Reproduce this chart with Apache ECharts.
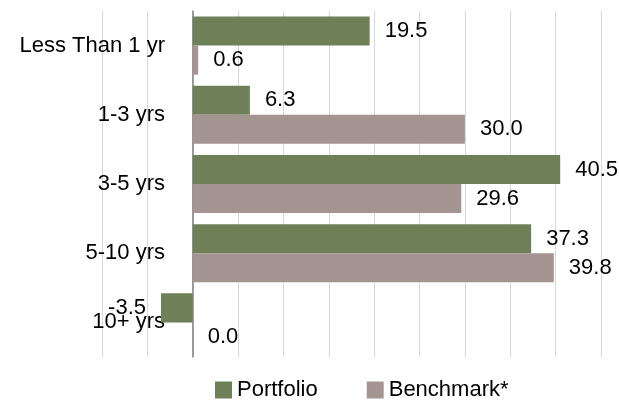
<!DOCTYPE html>
<html>
<head>
<meta charset="utf-8">
<script src="https://cdn.jsdelivr.net/npm/echarts@6/dist/echarts.min.js"></script>
<style>
  html, body { margin: 0; padding: 0; background: #fff; }
  #chart1 { width: 619px; height: 401px; }
</style>
</head>
<body>
<div id="chart1"></div>
<script>
var categories = ['Less Than 1 yr', '1-3 yrs', '3-5 yrs', '5-10 yrs', '10+ yrs'];
var portfolio = [19.5, 6.3, 40.5, 37.3, -3.5];
var benchmark = [0.6, 30.0, 29.6, 39.8, 0.0];
var seriesNames = ['Portfolio', 'Benchmark*'];

var font = "'Liberation Sans', Arial, sans-serif";

function toItems(values) {
    var items = [];
    for (var i = 0; i < values.length; i++) {
        items.push({
            value: values[i],
            label: { position: values[i] < 0 ? 'left' : 'right' }
        });
    }
    return items;
}

var labelStyle = {
    show: true,
    distance: 15,
    color: '#000',
    fontFamily: font,
    fontSize: 22,
    formatter: function (p) {
        return p.value.toFixed(1);
    }
};

var myChart1 = echarts.init(document.getElementById('chart1'));
var option = {
    animation: false,
    grid: {
        left: 102,
        right: 18,
        top: 11,
        bottom: 44,
        outerBoundsMode: 'none',
        containLabel: false
    },
    legend: {
        data: seriesNames,
        left: 215,
        top: 379,
        padding: 0,
        icon: 'rect',
        itemWidth: 17,
        itemHeight: 17,
        itemGap: 49,
        textStyle: {
            fontFamily: font,
            fontSize: 22,
            color: '#000'
        }
    },
    xAxis: {
        type: 'value',
        min: -10,
        max: 45,
        interval: 5,
        axisLabel: { show: false },
        axisLine: { show: false },
        axisTick: { show: false },
        splitLine: {
            show: true,
            lineStyle: { color: '#d9d9d9', width: 1 }
        }
    },
    yAxis: {
        type: 'category',
        data: categories,
        inverse: true,
        axisTick: { show: false },
        axisLine: {
            show: true,
            onZero: true,
            lineStyle: { color: '#808080', width: 1.5 }
        },
        axisLabel: {
            margin: -63,
            color: '#000',
            fontFamily: font,
            fontSize: 22
        }
    },
    series: [
        {
            name: seriesNames[0],
            type: 'bar',
            data: toItems(portfolio),
            barGap: '0%',
            barCategoryGap: '16%',
            itemStyle: { color: '#6f8059' },
            label: labelStyle
        },
        {
            name: seriesNames[1],
            type: 'bar',
            data: toItems(benchmark),
            barGap: '0%',
            barCategoryGap: '16%',
            itemStyle: { color: '#a59592' },
            label: labelStyle
        }
    ]
};
myChart1.setOption(option);
</script>
</body>
</html>
